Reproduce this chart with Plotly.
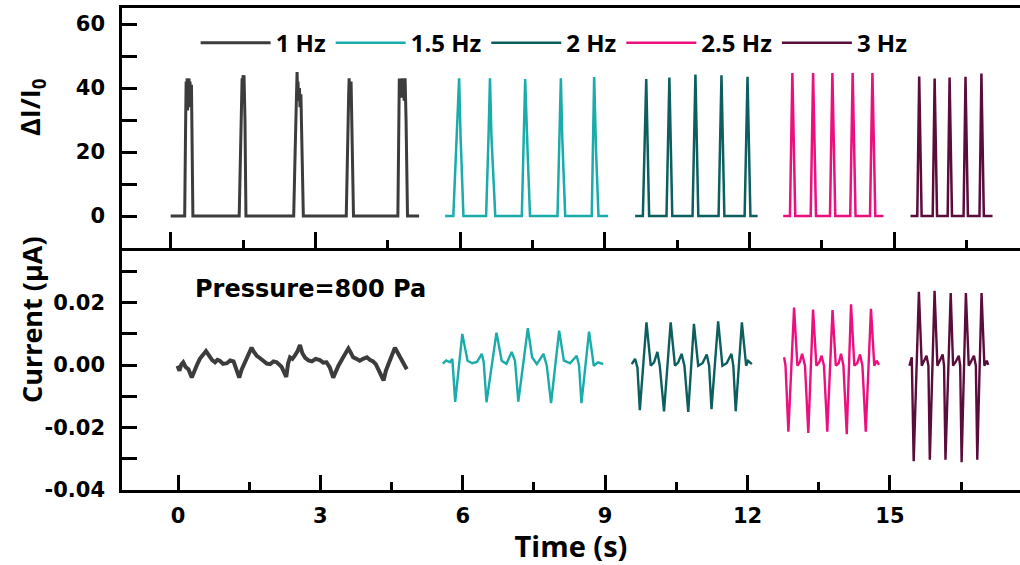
import plotly.graph_objects as go

# ---------------- data ----------------
labels = ["1 Hz", "1.5 Hz", "2 Hz", "2.5 Hz", "3 Hz"]
colors = ["#3c3c3c", "#1aabab", "#0d5e5e", "#ec0f7e", "#5a0c3a"]

# top panel: ΔI/I0 vs time
t_top_1 = [0.00, 0.29, 0.31, 0.32, 0.33, 0.34, 0.35, 0.36, 0.37, 0.38, 0.39, 0.40, 0.42, 0.43, 0.44, 0.46,
           1.42, 1.45, 1.47, 1.48, 1.49, 1.50, 1.51, 1.52, 1.54, 1.56,
           2.55, 2.58, 2.61, 2.62, 2.63, 2.64, 2.65, 2.67, 2.68, 2.70, 2.71, 2.75,
           3.64, 3.66, 3.68, 3.69, 3.70, 3.71, 3.72, 3.73, 3.74, 3.79,
           4.71, 4.73, 4.74, 4.75, 4.77, 4.78, 4.80, 4.81, 4.83, 4.84, 4.86, 4.87, 4.88, 4.91, 5.15]
r_top_1 = [0, 0, 30, 42, 35, 43, 33, 42, 38, 43, 34, 42, 36, 41, 20, 0,
           0, 25, 40, 43, 38, 44, 41, 44, 30, 0,
           0, 20, 38, 45, 39, 42, 36, 40, 34, 38, 30, 0,
           0, 20, 28, 38, 43, 36, 42, 38, 42, 0,
           0, 30, 43, 38, 42, 37, 43, 38, 42, 36, 43, 38, 30, 0, 0]
t_top_15 = [5.69, 5.86, 5.98, 6.01, 6.07,
            6.54, 6.59, 6.62, 6.65, 6.73,
            7.28, 7.35, 7.40, 7.45,
            8.02, 8.06, 8.09, 8.12, 8.18,
            8.73, 8.78, 8.82, 8.87, 9.07]
r_top_15 = [0, 0, 43, 25, 0,
            0, 25, 43, 25, 0,
            0, 42.8, 20, 0,
            0, 25, 43, 24, 0,
            0, 43.4, 20, 0, 0]
t_top_2 = [9.63, 9.79, 9.86, 9.92, 10.28, 10.34, 10.40, 10.82, 10.88, 10.94,
           11.36, 11.42, 11.48, 11.90, 11.96, 12.02, 12.17]
r_top_2 = [0, 0, 42.8, 0, 0, 43.3, 0, 0, 44.2, 0,
           0, 44.0, 0, 0, 43.5, 0, 0]
t_top_25 = [12.70, 12.84, 12.89, 12.95, 13.27, 13.32, 13.38, 13.67, 13.72, 13.78,
            14.09, 14.14, 14.20, 14.50, 14.55, 14.61, 14.78]
r_top_25 = [0, 0, 44.7, 0, 0, 44.7, 0, 0, 44.7, 0,
            0, 44.7, 0, 0, 44.7, 0, 0]
t_top_3 = [15.34, 15.48, 15.52, 15.57, 15.80, 15.84, 15.89, 16.11, 16.15, 16.20,
           16.44, 16.48, 16.53, 16.77, 16.81, 16.86, 17.04]
r_top_3 = [0, 0, 43.6, 0, 0, 43.0, 0, 0, 43.3, 0,
           0, 43.5, 0, 0, 44.5, 0, 0]

# bottom panel: current (μA) vs time
t_bot_1 = [-0.01, 0.03, 0.07, 0.11, 0.16, 0.22, 0.29, 0.33, 0.36, 0.41, 0.46, 0.52, 0.59, 0.63,
           0.67, 0.72, 0.78, 0.83, 0.88, 0.95, 1.03, 1.10, 1.17, 1.23, 1.29, 1.34, 1.39, 1.47,
           1.55, 1.60, 1.66, 1.73, 1.80, 1.87, 1.94, 2.01, 2.08, 2.18, 2.28, 2.32, 2.36, 2.41,
           2.46, 2.52, 2.57, 2.62, 2.68, 2.75, 2.82, 2.90, 2.99, 3.06, 3.13, 3.20, 3.27, 3.33,
           3.38, 3.48, 3.59, 3.64, 3.69, 3.76, 3.83, 3.90, 3.98, 4.04, 4.11, 4.17, 4.22, 4.28,
           4.33, 4.38, 4.43, 4.50, 4.57, 4.62, 4.68, 4.73, 4.78, 4.82]
c_bot_1 = [-0.0002, -0.0018, 0.0002, 0.0009, -0.0006, -0.0013, -0.0040, -0.0022, -0.0018, 0.0004,
           0.0020, 0.0030, 0.0045, 0.0036, 0.0025, 0.0016, 0.0009, 0.0017, 0.0014, 0.0004,
           0.0006, 0.0015, 0.0012, -0.0010, -0.0040, -0.0015, 0.0003, 0.0030, 0.0056, 0.0042,
           0.0030, 0.0022, 0.0014, 0.0005, 0.0003, 0.0012, 0.0009, -0.0005, -0.0038, 0.0005,
           0.0025, 0.0020, 0.0030, 0.0045, 0.0064, 0.0038, 0.0023, 0.0015, 0.0012, 0.0020,
           0.0016, 0.0008, 0.0009, -0.0008, -0.0040, -0.0018, -0.0002, 0.0025, 0.0053, 0.0040,
           0.0025, 0.0020, 0.0014, 0.0020, 0.0025, 0.0017, 0.0012, 0.0002, -0.0013, -0.0030,
           -0.0049, -0.0018, 0.0003, 0.0030, 0.0056, 0.0042, 0.0025, 0.0008, -0.0008, -0.0013]
t_bot_15 = [5.58, 5.65, 5.73, 5.78, 5.84, 5.99, 6.10, 6.20, 6.30, 6.40, 6.44, 6.50, 6.71, 6.82,
            6.92, 7.03, 7.10, 7.17, 7.37, 7.46, 7.56, 7.70, 7.77, 7.86, 8.03, 8.13, 8.26, 8.40,
            8.45, 8.50, 8.66, 8.76, 8.85, 8.96]
c_bot_15 = [0.0005, 0.0015, 0.0009, 0.0020, -0.0118, 0.0100, 0.0014, 0.0006, 0.0010, 0.0036,
            0.0010, -0.0119, 0.0104, 0.0014, 0.0004, 0.0042, 0.0014, -0.0117, 0.0118, 0.0025,
            0.0003, 0.0036, -0.0002, -0.0122, 0.0110, 0.0014, 0.0006, 0.0030, -0.0002, -0.0122,
            0.0107, -0.0002, 0.0009, 0.0003]
t_bot_2 = [9.56, 9.63, 9.68, 9.73, 9.87, 9.96, 10.03, 10.10, 10.15, 10.24, 10.38, 10.47, 10.54,
           10.61, 10.67, 10.75, 10.87, 10.96, 11.05, 11.14, 11.19, 11.24, 11.38, 11.47, 11.56,
           11.66, 11.70, 11.75, 11.88, 11.97, 12.01, 12.09]
c_bot_2 = [0.0003, 0.0020, -0.0008, -0.0144, 0.0137, -0.0002, 0.0009, 0.0042, -0.0002, -0.0148,
           0.0137, -0.0002, 0.0009, 0.0036, -0.0002, -0.0150, 0.0132, -0.0002, 0.0006, 0.0034,
           -0.0002, -0.0141, 0.0140, -0.0002, 0.0006, 0.0036, -0.0002, -0.0148, 0.0137, -0.0002,
           0.0014, 0.0003]
t_bot_25 = [12.77, 12.80, 12.86, 12.98, 13.05, 13.10, 13.15, 13.21, 13.28, 13.38, 13.45, 13.51,
            13.56, 13.61, 13.68, 13.79, 13.86, 13.92, 13.97, 14.02, 14.09, 14.18, 14.25, 14.31,
            14.37, 14.42, 14.49, 14.60, 14.67, 14.72, 14.77]
c_bot_25 = [0.0025, -0.0002, -0.0213, 0.0184, -0.0002, 0.0009, 0.0036, -0.0002, -0.0217, 0.0178,
            -0.0002, 0.0009, 0.0030, -0.0002, -0.0213, 0.0176, -0.0002, 0.0006, 0.0036, -0.0002,
            -0.0221, 0.0195, -0.0002, 0.0006, 0.0034, -0.0002, -0.0213, 0.0180, -0.0002, 0.0014,
            0.0001]
t_bot_3 = [15.41, 15.46, 15.50, 15.61, 15.67, 15.71, 15.77, 15.81, 15.84, 15.94, 16.00, 16.05,
           16.11, 16.14, 16.17, 16.28, 16.33, 16.39, 16.45, 16.48, 16.51, 16.60, 16.66, 16.71,
           16.77, 16.81, 16.84, 16.93, 16.99, 17.04, 17.07]
c_bot_3 = [-0.0002, 0.0025, -0.0308, 0.0235, -0.0002, 0.0012, 0.0030, -0.0002, -0.0303, 0.0238,
           -0.0002, 0.0014, 0.0034, -0.0002, -0.0303, 0.0231, -0.0002, 0.0012, 0.0030, -0.0002,
           -0.0311, 0.0231, -0.0002, 0.0012, 0.0030, -0.0002, -0.0303, 0.0231, -0.0002, 0.0014,
           0.0001]

top_t = [t_top_1, t_top_15, t_top_2, t_top_25, t_top_3]
top_r = [r_top_1, r_top_15, r_top_2, r_top_25, r_top_3]
bot_t = [t_bot_1, t_bot_15, t_bot_2, t_bot_25, t_bot_3]
bot_c = [c_bot_1, c_bot_15, c_bot_2, c_bot_25, c_bot_3]

x_ticks = [0, 3, 6, 9, 12, 15]
y_top_ticks = [0, 20, 40, 60]
y_bot_ticks = [-0.04, -0.02, 0.0, 0.02]
y_bot_ticktext = ["-0.04", "-0.02", "0.00", "0.02"]

# ---------------- figure ----------------
FONT = "Open Sans"
TICKFONT = "DejaVu Sans"
fig = go.Figure()
for i in range(5):
    fig.add_trace(go.Scatter(x=top_t[i], y=top_r[i], mode="lines", name=labels[i],
                             line=dict(color=colors[i], width=3 if i == 0 else 2.5),
                             xaxis="x2", yaxis="y2"))
for i in range(5):
    fig.add_trace(go.Scatter(x=bot_t[i], y=bot_c[i], mode="lines", name=labels[i],
                             line=dict(color=colors[i], width=4 if i == 0 else 2.4),
                             xaxis="x", yaxis="y", showlegend=False))

tickfont = dict(family=TICKFONT, size=21, color="black", weight="bold")
axcommon = dict(showline=True, linecolor="black", linewidth=2.5, showgrid=False,
                zeroline=False, ticks="inside", tickcolor="black", tickwidth=2.5)

split = 242 / 482
fig.update_layout(
    width=1020, height=565,
    margin=dict(l=122, r=0, t=8, b=75),
    paper_bgcolor="white", plot_bgcolor="white",
    xaxis=dict(**axcommon, domain=[0, 1], anchor="y", range=[-1.18, 17.74],
               tickvals=x_ticks, ticklen=15, tickfont=tickfont, ticklabelstandoff=5,
               minor=dict(ticks="inside", ticklen=8, tickwidth=2.5, tickcolor="black",
                          dtick=1.5, tick0=0),
               title=dict(text="Time (s)", font=dict(family=FONT, size=29, color="black",
                                                     weight="bold"), standoff=2)),
    yaxis=dict(**axcommon, domain=[0, split], anchor="x", range=[-0.04, 0.0375],
               tickvals=y_bot_ticks, ticktext=y_bot_ticktext, ticklen=15,
               tickfont=tickfont, ticklabelstandoff=10,
               minor=dict(ticks="inside", ticklen=15, tickwidth=2.5, tickcolor="black",
                          dtick=0.01, tick0=0)),
    xaxis2=dict(**axcommon, domain=[0, 1], anchor="y2", range=[-1.01, 17.61],
                tickvals=x_ticks, ticklen=16, showticklabels=False, mirror=True,
                minor=dict(ticks="inside", ticklen=8, tickwidth=2.5, tickcolor="black",
                           dtick=1.5, tick0=0)),
    yaxis2=dict(**axcommon, domain=[split, 1], anchor="x2", range=[-10, 65],
                tickvals=y_top_ticks, ticklen=15, tickfont=tickfont, ticklabelstandoff=10,
                minor=dict(ticks="inside", ticklen=15, tickwidth=2.5, tickcolor="black",
                           dtick=10, tick0=0)),
    legend=dict(orientation="h", x=0.082, y=0.927, xanchor="left", yanchor="middle",
                font=dict(family=FONT, size=24, color="black", weight="bold"),
                bgcolor="rgba(0,0,0,0)", itemwidth=70, tracegroupgap=0),
    showlegend=True,
)

fig.add_annotation(text="ΔI/I<sub>0</sub>", xref="paper", yref="paper",
                   x=-0.100, y=0.795, xanchor="center", yanchor="middle",
                   textangle=-90, showarrow=False,
                   font=dict(family=FONT, size=27, color="black", weight="bold"))
fig.add_annotation(text="Current (μA)", xref="paper", yref="paper",
                   x=-0.100, y=0.353, xanchor="center", yanchor="middle",
                   textangle=-90, showarrow=False,
                   font=dict(family=FONT, size=27, color="black", weight="bold"))
fig.add_annotation(text="Pressure=800 Pa", xref="x", yref="y", x=0.32, y=0.0245,
                   xanchor="left", yanchor="middle", showarrow=False,
                   font=dict(family="DejaVu Sans", size=24, color="black", weight="bold"))

fig.write_html("out.html")
